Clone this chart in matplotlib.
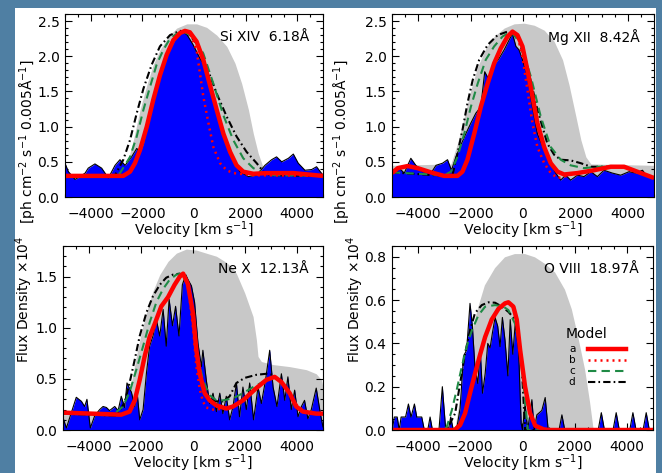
import matplotlib
matplotlib.use("Agg")
import matplotlib.pyplot as plt
from matplotlib.patches import Rectangle
from matplotlib.ticker import MultipleLocator, FormatStrFormatter

plt.rcParams['font.family'] = ['DejaVu Sans']
plt.rcParams['font.size'] = 10

# ---------------- Si XIV 6.18A ----------------
si_gray_v = [-5000, -2870, -2550, -2350, -2090, -1830, -1580, -1320, -990, -670, -280, 100, 490, 880, 1270, 1590, 1850, 2110, 2300, 2490, 2690, 2820, 5000]
si_gray_f = [0.30, 0.30, 0.53, 0.81, 1.24, 1.59, 1.88, 2.09, 2.28, 2.40, 2.46, 2.46, 2.41, 2.30, 2.14, 1.90, 1.61, 1.24, 0.90, 0.62, 0.41, 0.31, 0.30]
si_data_v = [-5000, -4870, -4610, -4420, -4220, -4100, -3840, -3580, -3320, -3060, -2870, -2670, -2420, -2220, -2090, -1960, -1700, -1450, -1190, -930, -670, -440, -260, -30, 230, 490, 750, 1010, 1270, 1520, 1780, 2110, 2430, 2750, 3010, 3200, 3400, 3660, 3850, 4040, 4300, 4560, 4750, 5000]
si_data_f = [0.48, 0.36, 0.25, 0.29, 0.34, 0.41, 0.47, 0.41, 0.27, 0.45, 0.53, 0.45, 0.57, 0.69, 0.64, 0.76, 1.19, 1.57, 1.88, 2.11, 2.28, 2.35, 2.30, 2.16, 1.97, 1.83, 1.45, 1.02, 0.74, 0.53, 0.36, 0.29, 0.31, 0.45, 0.53, 0.57, 0.50, 0.55, 0.61, 0.48, 0.38, 0.39, 0.43, 0.31]
si_a_v = [-5000, -2740, -2480, -2290, -2090, -1830, -1580, -1320, -1060, -800, -540, -350, -160, 100, 360, 620, 880, 1140, 1400, 1650, 1910, 2300, 2820, 3850, 5000]
si_a_f = [0.30, 0.30, 0.36, 0.48, 0.67, 1.00, 1.38, 1.73, 2.02, 2.23, 2.33, 2.36, 2.34, 2.21, 1.95, 1.59, 1.24, 0.90, 0.64, 0.45, 0.36, 0.33, 0.34, 0.34, 0.30]
si_b_v = [-5000, -2740, -2480, -2290, -2090, -1830, -1580, -1320, -1060, -800, -540, -350, -160, 100, 360, 560, 750, 1010, 1270, 1520, 2300, 5000]
si_b_f = [0.30, 0.30, 0.36, 0.48, 0.67, 1.00, 1.38, 1.73, 2.02, 2.23, 2.33, 2.36, 2.34, 2.09, 1.43, 1.05, 0.71, 0.48, 0.38, 0.34, 0.31, 0.30]
si_c_v = [-5000, -3100, -2870, -2480, -2220, -1960, -1700, -1450, -1190, -930, -670, -410, -30, 360, 750, 1140, 1520, 1910, 2300, 2690, 3000, 5000]
si_c_f = [0.30, 0.30, 0.34, 0.57, 0.86, 1.24, 1.57, 1.88, 2.09, 2.25, 2.32, 2.35, 2.28, 2.04, 1.61, 1.16, 0.81, 0.55, 0.41, 0.34, 0.31, 0.30]
si_d_v = [-5000, -3200, -3060, -2740, -2480, -2220, -1960, -1640, -1320, -930, -540, -280, 100, 490, 880, 1270, 1650, 2040, 2430, 2690, 2950, 5000]
si_d_f = [0.30, 0.30, 0.31, 0.53, 0.81, 1.19, 1.54, 1.88, 2.14, 2.30, 2.36, 2.35, 2.18, 1.85, 1.47, 1.14, 0.86, 0.64, 0.48, 0.36, 0.31, 0.30]

# ---------------- Mg XII 8.42A ----------------
mg_gray_v = [-5000, -2750, -2500, -2240, -1990, -1730, -1420, -1100, -720, -340, 40, 430, 810, 1190, 1510, 1760, 2010, 2210, 2400, 2590, 5000]
mg_gray_f = [0.45, 0.47, 0.76, 1.14, 1.52, 1.85, 2.11, 2.28, 2.40, 2.46, 2.47, 2.44, 2.37, 2.21, 1.95, 1.59, 1.16, 0.81, 0.57, 0.47, 0.45]
mg_data_v = [-5000, -4780, -4530, -4280, -4090, -3830, -3510, -3320, -3070, -2880, -2730, -2560, -2370, -2180, -1990, -1800, -1610, -1460, -1290, -1100, -910, -720, -530, -400, -270, -150, -20, 170, 360, 550, 810, 1060, 1250, 1440, 1630, 1820, 2080, 2330, 2590, 2840, 3090, 3410, 3730, 4050, 4300, 4560, 4750, 5000]
mg_data_f = [0.34, 0.43, 0.34, 0.55, 0.45, 0.36, 0.34, 0.45, 0.48, 0.53, 0.38, 0.57, 0.74, 0.90, 1.05, 1.19, 1.28, 1.78, 1.66, 1.88, 1.97, 2.09, 2.23, 2.32, 2.14, 2.09, 1.95, 1.71, 1.28, 0.90, 0.67, 0.48, 0.34, 0.24, 0.31, 0.24, 0.31, 0.29, 0.36, 0.29, 0.38, 0.34, 0.31, 0.36, 0.34, 0.38, 0.29, 0.29]
mg_a_v = [-5000, -4780, -4400, -4020, -3510, -3010, -2500, -2310, -2120, -1860, -1610, -1350, -1100, -850, -590, -400, -210, -20, 170, 360, 550, 810, 1060, 1320, 1570, 2080, 2710, 3350, 3860, 4360, 5000]
mg_a_f = [0.34, 0.41, 0.44, 0.41, 0.35, 0.30, 0.30, 0.36, 0.53, 0.90, 1.28, 1.61, 1.90, 2.11, 2.28, 2.35, 2.30, 2.14, 1.80, 1.43, 1.05, 0.71, 0.48, 0.36, 0.32, 0.34, 0.38, 0.43, 0.43, 0.36, 0.27]
mg_b_v = [-5000, -4780, -4400, -4020, -3510, -3010, -2500, -2310, -2120, -1860, -1610, -1350, -1100, -850, -590, -400, -210, -20, 170, 360, 550, 810, 1060, 1320, 1570, 2080, 2710, 3350, 3860, 4360, 5000]
mg_b_f = [0.34, 0.41, 0.44, 0.41, 0.35, 0.30, 0.30, 0.36, 0.53, 0.90, 1.28, 1.61, 1.90, 2.11, 2.28, 2.35, 2.30, 1.99, 1.52, 1.05, 0.71, 0.48, 0.34, 0.27, 0.29, 0.34, 0.38, 0.43, 0.43, 0.36, 0.27]
mg_c_v = [-5000, -3000, -2750, -2500, -2240, -1990, -1730, -1420, -1100, -780, -460, -80, 300, 680, 1060, 1440, 1820, 2330, 2840, 3350, 3860, 4360, 5000]
mg_c_f = [0.35, 0.31, 0.36, 0.57, 0.90, 1.28, 1.61, 1.95, 2.14, 2.28, 2.35, 2.18, 1.71, 1.14, 0.71, 0.53, 0.45, 0.41, 0.43, 0.43, 0.43, 0.36, 0.27]
mg_d_v = [-5000, -3000, -2690, -2500, -2310, -2120, -1920, -1670, -1350, -970, -590, -210, 170, 550, 930, 1190, 1440, 1820, 2210, 2590, 3350, 3860, 4360, 5000]
mg_d_f = [0.35, 0.30, 0.31, 0.62, 0.95, 1.33, 1.66, 1.95, 2.16, 2.30, 2.35, 2.28, 1.85, 1.24, 0.76, 0.60, 0.53, 0.52, 0.48, 0.43, 0.43, 0.43, 0.36, 0.27]

# ---------------- Ne X 12.13A ----------------
ne_gray_v = [-5000, -2700, -2560, -2370, -2180, -1990, -1790, -1540, -1280, -960, -640, -260, 130, 510, 900, 1280, 1540, 1670, 1990, 2310, 2440, 2500, 2630, 3080, 3720, 4360, 4740, 4940, 5000]
ne_gray_f = [0.15, 0.16, 0.27, 0.46, 0.72, 0.95, 1.15, 1.36, 1.52, 1.65, 1.73, 1.77, 1.76, 1.73, 1.70, 1.64, 1.58, 1.53, 1.34, 1.11, 0.88, 0.72, 0.67, 0.64, 0.62, 0.59, 0.55, 0.49, 0.42]
ne_data_v = [-5000, -4870, -4680, -4490, -4290, -4170, -4080, -3950, -3780, -3590, -3460, -3330, -3210, -3010, -2880, -2760, -2630, -2540, -2370, -2240, -2150, -2050, -1920, -1790, -1670, -1540, -1410, -1280, -1150, -1030, -920, -790, -670, -540, -410, -280, -190, -60, 60, 190, 320, 380, 510, 640, 770, 900, 1030, 1150, 1280, 1410, 1540, 1670, 1790, 1920, 2050, 2180, 2330, 2500, 2630, 2790, 2950, 3080, 3230, 3400, 3530, 3650, 3780, 3910, 4040, 4170, 4290, 4420, 4550, 4740, 4900, 5000]
ne_data_f = [0.12, 0.02, 0.17, 0.32, 0.28, 0.23, 0.30, 0.02, 0.14, 0.20, 0.23, 0.22, 0.19, 0.23, 0.19, 0.33, 0.22, 0.46, 0.37, 0.23, 0.37, 0.10, 0.20, 0.56, 0.82, 0.92, 1.08, 0.92, 1.18, 0.82, 1.28, 1.02, 1.21, 0.92, 1.42, 1.52, 1.47, 1.41, 1.25, 0.85, 0.62, 0.78, 0.49, 0.26, 0.36, 0.18, 0.36, 0.16, 0.33, 0.10, 0.23, 0.46, 0.13, 0.42, 0.20, 0.46, 0.10, 0.42, 0.26, 0.49, 0.78, 0.42, 0.23, 0.55, 0.29, 0.52, 0.20, 0.39, 0.13, 0.23, 0.29, 0.11, 0.20, 0.41, 0.16, 0.03]
ne_a_v = [-5000, -2760, -2440, -2240, -2050, -1860, -1670, -1470, -1220, -960, -710, -510, -380, -200, 0, 130, 260, 450, 640, 900, 1280, 1540, 1920, 2440, 2820, 3140, 3400, 3720, 3970, 4230, 4740, 5000]
ne_a_f = [0.17, 0.15, 0.18, 0.29, 0.49, 0.72, 0.91, 1.04, 1.21, 1.30, 1.42, 1.50, 1.53, 1.43, 1.14, 0.78, 0.55, 0.36, 0.29, 0.24, 0.21, 0.23, 0.29, 0.41, 0.49, 0.52, 0.47, 0.36, 0.23, 0.18, 0.16, 0.16]
ne_b_v = [-5000, -2760, -2440, -2240, -2050, -1860, -1670, -1470, -1220, -960, -710, -510, -380, -200, 0, 130, 260, 380, 510, 770, 1280, 1540, 1920, 2440, 2820, 3140, 3400, 3720, 3970, 4230, 4740, 5000]
ne_b_f = [0.17, 0.15, 0.18, 0.29, 0.49, 0.72, 0.91, 1.04, 1.21, 1.30, 1.42, 1.50, 1.53, 1.43, 1.00, 0.62, 0.40, 0.28, 0.22, 0.20, 0.21, 0.23, 0.29, 0.41, 0.49, 0.52, 0.47, 0.36, 0.25, 0.19, 0.16, 0.16]
ne_c_v = [-5000, -3080, -2690, -2440, -2180, -1920, -1670, -1410, -1150, -900, -640, -450, -200, 0, 130, 380, 640, 900, 1150, 1540, 1920, 2310, 2690, 2950, 3140, 3400, 3720, 3970, 4230, 4740, 5000]
ne_c_f = [0.16, 0.15, 0.23, 0.37, 0.59, 0.82, 1.05, 1.25, 1.38, 1.47, 1.52, 1.53, 1.45, 1.15, 0.80, 0.49, 0.34, 0.29, 0.29, 0.31, 0.36, 0.42, 0.47, 0.51, 0.52, 0.47, 0.36, 0.23, 0.18, 0.16, 0.16]
ne_d_v = [-5000, -2950, -2630, -2440, -2240, -2050, -1790, -1540, -1280, -1030, -770, -510, -200, 0, 130, 260, 450, 640, 900, 1150, 1410, 1670, 1990, 2440, 2820, 3080, 3400, 3720, 3970, 4230, 4740, 5000]
ne_d_f = [0.16, 0.14, 0.27, 0.46, 0.69, 0.92, 1.15, 1.31, 1.42, 1.49, 1.52, 1.53, 1.45, 1.15, 0.80, 0.55, 0.38, 0.30, 0.28, 0.28, 0.33, 0.46, 0.51, 0.54, 0.55, 0.54, 0.47, 0.36, 0.23, 0.18, 0.16, 0.16]

# ---------------- O VIII 18.97A ----------------
ov_gray_v = [-5000, -2600, -2230, -1970, -1710, -1460, -1070, -690, -310, 80, 460, 840, 1230, 1610, 1870, 2120, 2380, 2570, 2700, 2750, 5000]
ov_gray_f = [0.0, 0.0, 0.28, 0.45, 0.57, 0.67, 0.75, 0.80, 0.815, 0.815, 0.80, 0.77, 0.73, 0.65, 0.56, 0.43, 0.28, 0.13, 0.01, 0.0, 0.0]
ov_data_v = [-5000, -4990, -4910, -4800, -4720, -4650, -4480, -4370, -4270, -4140, -4050, -3860, -3760, -3630, -3540, -3450, -3200, -3070, -2940, -2840, -2750, -2650, -2500, -2390, -2260, -2140, -2010, -1920, -1820, -1710, -1620, -1530, -1430, -1330, -1240, -1150, -1050, -950, -860, -770, -670, -560, -470, -370, -280, -150, -50, 0, 100, 200, 360, 450, 550, 740, 870, 985, 1400, 1510, 1620, 2900, 3020, 3140, 3470, 3590, 3710, 4110, 4230, 4350, 4620, 4740, 4860, 5000]
ov_data_f = [0.0, 0.0, 0.06, 0.06, 0.0, 0.06, 0.06, 0.12, 0.06, 0.12, 0.06, 0.06, 0.0, 0.0, 0.06, 0.0, 0.0, 0.20, 0.0, 0.0, 0.06, 0.0, 0.02, 0.10, 0.34, 0.37, 0.585, 0.48, 0.29, 0.215, 0.37, 0.17, 0.26, 0.40, 0.38, 0.45, 0.52, 0.48, 0.385, 0.52, 0.415, 0.25, 0.51, 0.35, 0.49, 0.37, 0.03, 0.0, 0.12, 0.0, 0.14, 0.0, 0.07, 0.09, 0.15, 0.0, 0.0, 0.07, 0.0, 0.0, 0.08, 0.0, 0.0, 0.08, 0.0, 0.0, 0.08, 0.0, 0.0, 0.08, 0.0, 0.0]
ov_a_v = [-5000, -2600, -2390, -2200, -2010, -1820, -1620, -1430, -1180, -920, -670, -540, -350, -220, -90, 100, 290, 490, 810, 1000, 5000]
ov_a_f = [0.0, 0.0, 0.023, 0.077, 0.17, 0.26, 0.35, 0.43, 0.51, 0.56, 0.585, 0.59, 0.57, 0.51, 0.37, 0.20, 0.078, 0.02, 0.003, 0.0, 0.0]
ov_b_v = [-5000, -2600, -2390, -2200, -2010, -1820, -1620, -1430, -1180, -920, -670, -540, -350, -220, -90, 100, 290, 490, 810, 1000, 5000]
ov_b_f = [0.0, 0.0, 0.023, 0.077, 0.17, 0.26, 0.35, 0.43, 0.51, 0.56, 0.585, 0.59, 0.57, 0.51, 0.37, 0.20, 0.078, 0.02, 0.003, 0.0, 0.0]
ov_c_v = [-5000, -3000, -2900, -2710, -2520, -2330, -2140, -1940, -1690, -1430, -1050, -730, -540, -280, -90, 50, 200, 5000]
ov_c_f = [0.0, 0.0, 0.015, 0.09, 0.185, 0.29, 0.385, 0.46, 0.53, 0.57, 0.577, 0.57, 0.554, 0.49, 0.37, 0.20, 0.0, 0.0]
ov_d_v = [-5000, -2900, -2580, -2390, -2200, -2010, -1820, -1560, -1300, -1050, -790, -540, -280, -150, -25, 100, 5000]
ov_d_f = [0.0, 0.0, 0.077, 0.215, 0.354, 0.46, 0.54, 0.577, 0.59, 0.588, 0.57, 0.546, 0.51, 0.43, 0.29, 0.0, 0.0]

legend_names = ['a', 'b', 'c', 'd']

RED = '#ff0000'
GREEN = '#1f8a45'
GRAY = '#c8c8c8'
BLUE = '#0000ff'
styles = [dict(color=RED, lw=3.2, ls='-'),
          dict(color=RED, lw=1.8, ls=(0, (0.8, 1.6))),
          dict(color=GREEN, lw=1.5, ls=(0, (4, 2.5))),
          dict(color='black', lw=1.5, ls=(0, (3.5, 1.5, 0.8, 1.5)))]

fig = plt.figure(figsize=(6.62, 4.73), dpi=100)
fig.patch.set_facecolor('#4f7fa3')
# white sheet behind the plots
fig.patches.append(Rectangle((15 / 662, 0), 641 / 662, 465 / 473,
                             transform=fig.transFigure, facecolor='white',
                             edgecolor='none', zorder=-10))


def panel(rect, gray, data, models, ylim, ymaj, ymin, title):
    ax = fig.add_axes(rect)
    ax.set_zorder(1)
    ax.set_facecolor('white')
    ax.fill_between(gray[0], 0, gray[1], color=GRAY, lw=0, zorder=1)
    ax.fill_between(data[0], 0, data[1], color=BLUE, lw=0, zorder=2)
    ax.plot(data[0], data[1], color='black', lw=0.8, zorder=3)
    for (mv, mf), st in reversed(list(zip(models, styles))):
        ax.plot(mv, mf, zorder=4, solid_capstyle='butt', **st)
    ax.set_xlim(-5000, 5000)
    ax.set_ylim(*ylim)
    ax.xaxis.set_major_locator(MultipleLocator(2000))
    ax.xaxis.set_minor_locator(MultipleLocator(500))
    ax.yaxis.set_major_locator(MultipleLocator(ymaj))
    ax.yaxis.set_minor_locator(MultipleLocator(ymin))
    ax.yaxis.set_major_formatter(FormatStrFormatter('%.1f'))
    ax.tick_params(which='both', direction='in', top=True, right=True, width=0.8)
    ax.tick_params(which='major', length=5, labelsize=10)
    ax.tick_params(which='minor', length=2.5)
    ax.tick_params(axis='x', which='major', pad=7)
    ax.tick_params(axis='y', which='major', pad=4)
    for s in ax.spines.values():
        s.set_linewidth(0.8)
        s.set_zorder(6)
    ax.set_xlabel('Velocity [km s$^{-1}$]', labelpad=-1)
    ax.text(0.945, 0.875, title, transform=ax.transAxes, ha='right', va='center', fontsize=10, zorder=7)
    return ax


panel([0.0982, 0.5835, 0.3897, 0.3869], (si_gray_v, si_gray_f), (si_data_v, si_data_f),
      [(si_a_v, si_a_f), (si_b_v, si_b_f), (si_c_v, si_c_f), (si_d_v, si_d_f)],
      (0, 2.6), 0.5, 0.1, 'Si XIV  6.18Å')
panel([0.5921, 0.5835, 0.3958, 0.3869], (mg_gray_v, mg_gray_f), (mg_data_v, mg_data_f),
      [(mg_a_v, mg_a_f), (mg_b_v, mg_b_f), (mg_c_v, mg_c_f), (mg_d_v, mg_d_f)],
      (0, 2.6), 0.5, 0.1, 'Mg XII  8.42Å')
panel([0.0952, 0.0909, 0.3927, 0.3890], (ne_gray_v, ne_gray_f), (ne_data_v, ne_data_f),
      [(ne_a_v, ne_a_f), (ne_b_v, ne_b_f), (ne_c_v, ne_c_f), (ne_d_v, ne_d_f)],
      (0, 1.8), 0.5, 0.1, 'Ne X  12.13Å')
ax4 = panel([0.5921, 0.0909, 0.3943, 0.3890], (ov_gray_v, ov_gray_f), (ov_data_v, ov_data_f),
            [(ov_a_v, ov_a_f), (ov_b_v, ov_b_f), (ov_c_v, ov_c_f), (ov_d_v, ov_d_f)],
            (0, 0.85), 0.2, 0.05, 'O VIII  18.97Å')

# legend drawn by hand like the IDL original
ax4.text(0.665, 0.52, 'Model', transform=ax4.transAxes, ha='left', va='center', fontsize=10, zorder=7)
leg_y = [0.44, 0.38, 0.32, 0.26]
for name, y, st in zip(legend_names, leg_y, styles):
    ax4.text(0.69, y, name, transform=ax4.transAxes, ha='center', va='center', fontsize=7.5, zorder=7)
    ax4.plot([0.75, 0.897], [y, y], transform=ax4.transAxes, zorder=7, **st)

# y labels (shared between rows in the original)
for x in (0.043, 0.517):
    fig.text(x, 0.70, '[ph cm$^{-2}$ s$^{-1}$ 0.005Å$^{-1}$]', rotation=90, ha='center', va='center', fontsize=10)
for x in (0.036, 0.536):
    fig.text(x, 0.368, 'Flux Density ×10$^4$', rotation=90, ha='center', va='center', fontsize=10)

fig.savefig('out.png', dpi=100, facecolor=fig.get_facecolor())
